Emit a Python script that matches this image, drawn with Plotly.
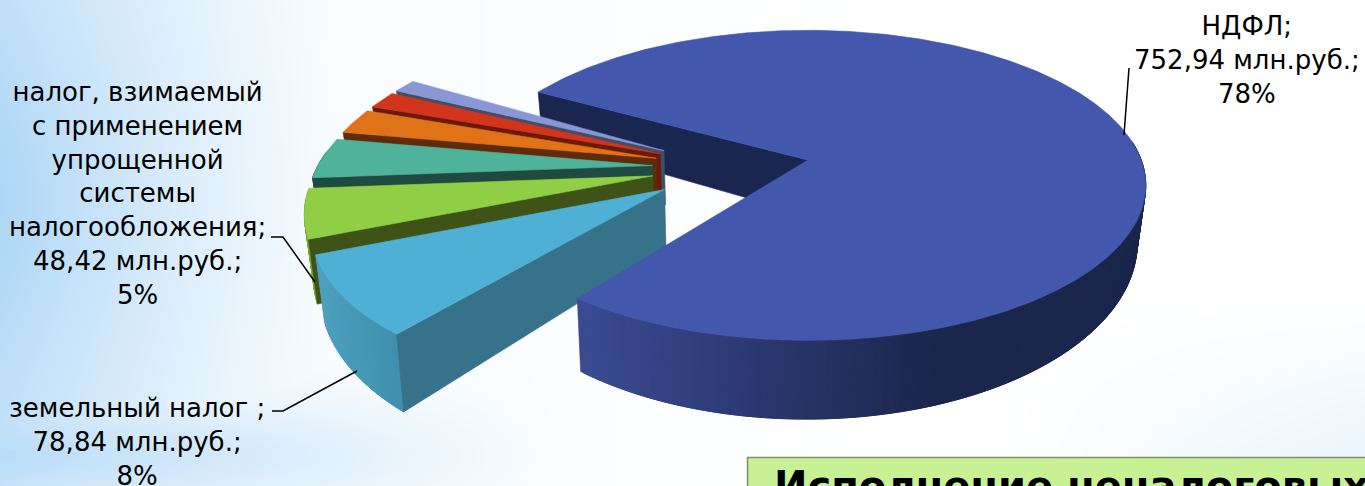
import numpy as np
import plotly.graph_objects as go

# ---- data (clockwise from the big slice's cut; unlabeled values estimated) ----
slice_names = ["НДФЛ", "земельный налог", "налог, взимаемый с применением упрощенной системы налогообложения",
               "сектор 4", "сектор 5", "сектор 6", "сектор 7"]
slice_values = [752.94, 78.84, 48.42, 40.0, 25.0, 17.0, 13.0]
label_ndfl = "НДФЛ;<br>752,94 млн.руб.;<br>78%"
label_land = "земельный налог ;<br>78,84 млн.руб.;<br>8%"
label_usn = "налог, взимаемый<br>с применением<br>упрощенной<br>системы<br>налогообложения;<br>48,42 млн.руб.;<br>5%"
box_title = "Исполнение неналоговых"
top_colors = ["#4357ad", "#4eb0d4", "#90cf45", "#4fb29a", "#e07318", "#d2351c", "#8b96d4"]
cut_colors = ["#1b2650", "#36728a", "#3f5218", "#1f4a40", "#5e2c08", "#6b1a0a", "#3f5066"]
wall_colors = ["#3a4b95", "#4495b5", "#7aa832", "#2f7f6d", "#8a4a10", "#8a2a12", "#5c659c"]

# ---- projection of a tilted disc, in picture pixels ----
CX, CY, RX, RY, PERSP, H0 = 808.0, 160.0, 340.0, 154.0, 0.167, 55.0
RADIUS, RADIUS_SMALL, PULL = 0.98, 0.978, 0.23
START_DEG, SMALL_GAP = 233.0, 1.5  # the big slice runs counter-clockwise from here, the others clockwise
VANISH_X, TAPER = 735.0, 0.021


def proj(px, py, drop=0.0):
    px, py = np.asarray(px, float), np.asarray(py, float)
    s = 1.0 / (1.0 + PERSP * py)
    x = CX + RX * px * s
    return x - (x - VANISH_X) * TAPER * drop, CY - RY * py * s + drop * H0 * s ** 2


total = sum(slice_values)
spans = [v / total * 360.0 for v in slice_values]
mid0 = START_DEG + spans[0] / 2
center = -PULL * np.array([np.cos(np.radians(mid0)), np.sin(np.radians(mid0))])

fig = go.Figure()


def poly(x, y, color):
    fig.add_trace(go.Scatter(x=np.asarray(x), y=np.asarray(y), mode="lines", fill="toself", fillcolor=color,
                             line=dict(color=color, width=0.6), hoverinfo="skip", showlegend=False))


def mix(a, b, t):
    t = float(np.clip(t, 0, 1))
    return "rgb(%d,%d,%d)" % tuple(int(a[i] + (b[i] - a[i]) * t) for i in range(3))


# slice geometry: angles always increase along ox/oy
geo = []
hi = START_DEG - SMALL_GAP
for i, sp in enumerate(spans):
    if i == 0:
        a0, a1, r = START_DEG, START_DEG + sp, RADIUS
    else:
        a0, a1, r = hi - sp, hi, RADIUS_SMALL
        hi = a0
    m = np.radians((a0 + a1) / 2)
    apex = center + PULL * np.array([np.cos(m), np.sin(m)])
    th = np.radians(np.linspace(a0, a1, max(int(sp) * 2, 6)))
    geo.append((apex, apex[0] + r * np.cos(th), apex[1] + r * np.sin(th), th))


def top(i):
    apex, ox, oy, _ = geo[i]
    x, y = proj(np.r_[apex[0], ox, apex[0]], np.r_[apex[1], oy, apex[1]])
    poly(x, y, top_colors[i])


def quad_wall(ax, ay, bx, by, color):
    x0, y0 = proj([ax, bx], [ay, by])
    x1, y1 = proj([bx, ax], [by, ay], 1.0)
    poly(np.r_[x0, x1, x0[0]], np.r_[y0, y1, y0[0]], color)


def outer(i, ca=None, cb=None, x_from=590.0, x_span=350.0):
    apex, ox, oy, th = geo[i]
    n = len(ox)
    for k in range(n - 1):
        if np.sin(th[k]) > 0.1:
            continue
        sx, _ = proj(ox[k], oy[k])
        col = wall_colors[i] if ca is None else mix(ca, cb, (float(sx) - x_from) / x_span)
        e = min(k + 3, n - 1)
        quad_wall(ox[k], oy[k], ox[e], oy[e], col)


# background wash: pale blue at the left, bottom and lower right
gx = np.linspace(0, 1365, 70)
gy = np.linspace(0, 486, 30)
X, Y = np.meshgrid(gx, gy)
wash = np.maximum.reduce([
    np.clip(1 - X / 380, 0, 1) ** 1.2 * (0.72 + 0.28 * np.exp(-((Y - 200) / 170) ** 2)),
    0.75 * np.clip(1 - X / 560, 0, 1) * np.exp(-((Y - 455) / 55) ** 2) + 0.12 * np.clip(1 - X / 900, 0, 1),
    0.3 * np.clip((X - 1000) / 365, 0, 1) * np.clip((Y - 300) / 186, 0, 1),
])
fig.add_trace(go.Heatmap(x=gx, y=gy, z=wash, zmin=0, zmax=1, zsmooth="best", showscale=False, hoverinfo="skip",
                         colorscale=[[0, "#ffffff"], [1, "#aed7f6"]]))

# big slice: its visible cut wall goes first
apex0, ox0, oy0, _ = geo[0]
quad_wall(ox0[-1], oy0[-1], apex0[0], apex0[1], cut_colors[0])

# exploded slices, back to front
for i in range(len(slice_values) - 1, 0, -1):
    apex, ox, oy, _ = geo[i]
    if i == 1:
        outer(i, (78, 160, 190), (62, 140, 172), 320.0, 90.0)
    else:
        outer(i)
    quad_wall(ox[-1], oy[-1], apex[0], apex[1], cut_colors[i])
    top(i)

# big slice on top of everything
outer(0, (58, 74, 145), (27, 38, 76))
top(0)

shapes = [
    dict(type="rect", x0=747.5, y0=457.5, x1=1380, y1=520, fillcolor="#c8f195",
         line=dict(color="#7f8f70", width=1.5), layer="above"),
]
for path in ["M1129,68 L1124,135", "M271,237 L283,237 L315,282", "M272,411 L283,411 L357,371"]:
    shapes.append(dict(type="path", path=path, line=dict(color="black", width=1.5), layer="above"))

FONT = "DejaVu Sans"
annotations = [
    dict(x=1247, y=60, text=label_ndfl),
    dict(x=137, y=193, text=label_usn),
    dict(x=137, y=442, text=label_land),
]
for an in annotations:
    an.update(xref="x", yref="y", showarrow=False, align="center", xanchor="center", yanchor="middle",
              font=dict(family=FONT, size=26, color="black"))
annotations.append(dict(x=772, y=461, xref="x", yref="y", text="<b>%s</b>" % box_title, showarrow=False,
                        xanchor="left", yanchor="top", align="left",
                        font=dict(family="DejaVu Sans", size=40, color="black")))

fig.update_layout(
    width=1365, height=486, margin=dict(l=0, r=0, t=0, b=0), showlegend=False,
    paper_bgcolor="white", plot_bgcolor="white", shapes=shapes, annotations=annotations,
    xaxis=dict(range=[0, 1365], visible=False, fixedrange=True),
    yaxis=dict(range=[486, 0], visible=False, fixedrange=True),
)
fig.write_html("out.html", post_script="document.body.style.margin='0';document.body.style.overflow='hidden';",
               config={"displayModeBar": False})
